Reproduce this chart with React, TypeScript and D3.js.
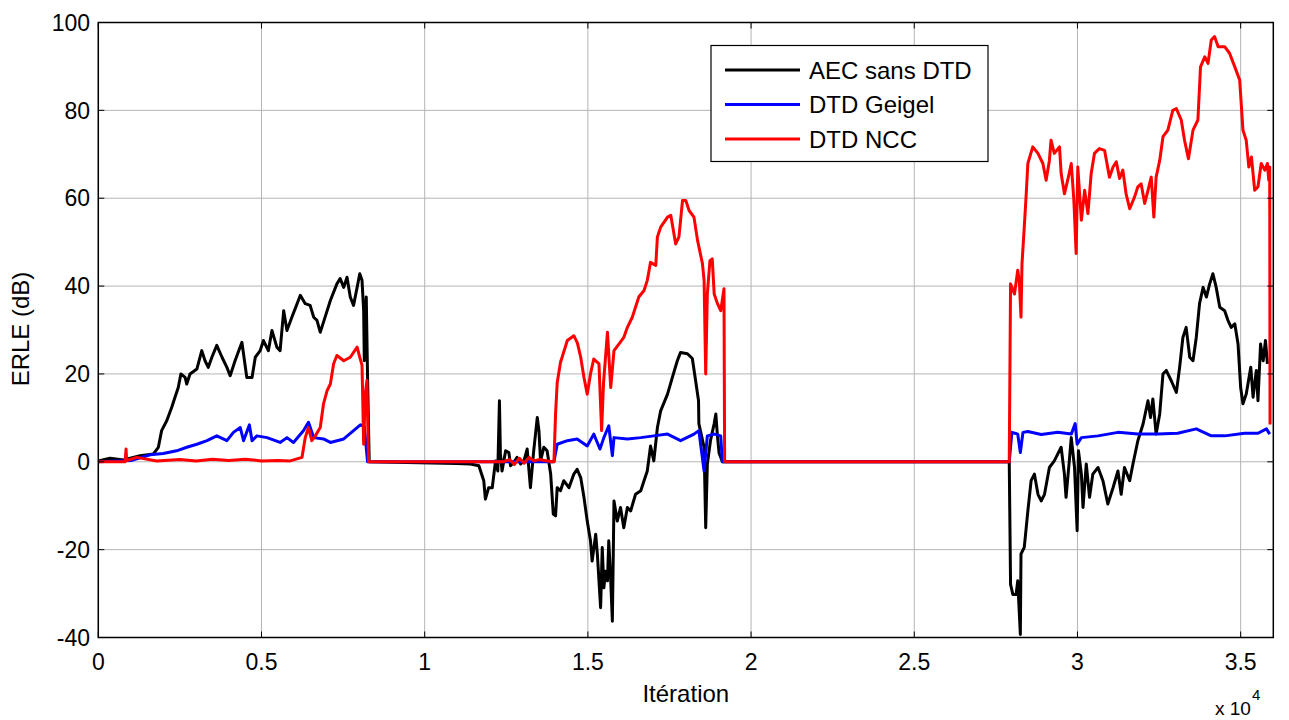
import React from "react";
import * as d3 from "d3";

// ---- data (iteration, ERLE dB) ----
const aecSansDTD: [number, number][] = [
  [0,0.2],[360,0.8],[770,0.4],[1280,1.4],[1690,1.8],[1840,3.3],[1940,7.1],[2100,9.4],[2250,12.4],[2350,14.7],[2450,16.9],[2530,20],[2660,19.2],[2710,17.7],[2810,20],[3020,21.1],[3170,25.3],[3270,23],[3370,21.5],[3480,23.8],[3630,26.5],[3790,23.8],[3940,21.5],[4040,19.6],[4190,23],[4400,27.2],[4550,19.2],[4710,19.2],[4810,23.8],[4960,25.3],[5060,27.6],[5210,25.3],[5320,29.9],[5470,26.1],[5570,25.3],[5680,34.4],[5780,29.9],[5930,32.9],[6030,34.8],[6190,37.9],[6340,36],[6490,35.6],[6600,32.9],[6700,32.2],[6800,29.5],[6900,31.8],[7110,36.7],[7310,40.5],[7410,41.7],[7520,39.7],[7620,42],[7720,37.5],[7820,35.6],[7930,39.7],[8010,42.8],[8080,41.3],[8130,34.4],[8150,23],[8210,37.5],[8250,19.2],[8300,0],
  [10990,-0.4],[11400,-0.5],[11660,-0.9],[11810,-4.3],[11860,-8.5],[11960,-5.9],[12070,-5.9],[12170,0.2],[12240,-2.1],[12290,13.9],[12320,1.8],[12370,-2.1],[12480,2.5],[12580,2.1],[12630,-0.9],[12730,-0.2],[12830,1],[12940,-0.5],[13040,0.2],[13140,2.9],[13240,-5.9],[13340,2.5],[13450,10.1],[13500,7.1],[13550,0.2],[13650,3.3],[13750,2.5],[13860,-2.8],[13940,-11.9],[14010,-12.3],[14060,-5.9],[14160,-6.6],[14260,-4.3],[14420,-5.9],[14570,-2.8],[14670,-1.7],[14780,-3.6],[14880,-8.1],[14980,-13.5],[15080,-18],[15130,-22.6],[15240,-16.5],[15290,-21],[15390,-33.2],[15440,-19.5],[15490,-28.7],[15540,-24.9],[15600,-27.1],[15640,-18],[15700,-27.1],[15750,-36.3],[15800,-8.9],[15900,-13.5],[16000,-10.4],[16100,-15],[16210,-10.4],[16310,-11.2],[16460,-7.4],[16620,-6.6],[16720,-4.3],[16820,-2.1],[16920,3.6],[17020,0.2],[17130,7.8],[17230,11.6],[17440,15.4],[17600,19.5],[17740,23],[17840,24.9],[18050,24.6],[18200,23.5],[18300,18.5],[18390,13.9],[18400,8.7],[18560,3.3],[18610,-15],[18660,-0.5],[18760,5],[18870,8.7],[18920,10.9],[18970,5.8],[19020,2],[19120,0],[27910,0],
  [27950,-27.9],[28020,-30.2],[28120,-30.2],[28170,-27.1],[28250,-39.3],[28270,-21],[28370,-19.5],[28430,-15],[28480,-11.2],[28580,-4.3],[28680,-2.8],[28790,-7.4],[28890,-8.9],[28990,-7.4],[29140,-1.3],[29290,0.2],[29500,3.3],[29600,-2.8],[29650,-8.1],[29750,0.2],[29810,5.5],[29910,-1.3],[29990,-15.7],[30030,2.5],[30120,-2.8],[30170,-10.4],[30270,-0.5],[30370,-8.1],[30470,-2.8],[30630,-1.3],[30780,-4.3],[30930,-9.6],[31090,-5.9],[31240,-2.1],[31340,-7.4],[31440,-1.3],[31600,-4.3],[31700,-0.5],[31850,4.8],[32010,8.6],[32160,13.9],[32240,10.1],[32310,14.3],[32410,6.3],[32520,10.9],[32620,20],[32720,20.8],[32870,18.5],[33030,15.8],[33130,21.5],[33230,28.3],[33330,30.6],[33440,23.8],[33540,23],[33640,28.3],[33740,36],[33850,39.7],[33950,37.5],[34050,40.5],[34150,42.8],[34250,39.7],[34360,35.2],[34510,34.4],[34610,32.2],[34710,30.6],[34820,31.4],[34920,26.8],[35000,16.9],[35070,13.2],[35170,15.4],[35310,21.5],[35380,14.7],[35480,20.8],[35530,13.9],[35610,26.8],[35690,23],[35760,27.6],[35820,22.3]
];

const dtdGeigel: [number, number][] = [
  [0,0],[1000,0.3],[1590,1.6],[1990,1.9],[2400,2.5],[2710,3.3],[3020,4],[3330,4.8],[3630,5.9],[3940,4.8],[4140,6.7],[4350,7.8],[4450,4.8],[4630,8.4],[4710,4.8],[4860,5.9],[5170,5.5],[5570,4.4],[5780,5.5],[5980,4.4],[6290,7.1],[6440,9],[6600,5.5],[6900,5.2],[7110,4.4],[7520,5.2],[7820,7.1],[8030,8.4],[8150,8],[8250,0],
  [13960,0],[14060,4],[14370,4.8],[14670,5.2],[14980,3.6],[15180,6.3],[15370,2.9],[15490,5.5],[15640,8.2],[15750,1.4],[15800,5.5],[16210,5.2],[16620,5.5],[17020,5.9],[17440,6.3],[17840,4.8],[18250,6.3],[18400,7.1],[18560,-2.1],[18660,5.9],[18870,6.3],[19070,5.9],[19120,0],
  [27910,0],[27990,6.7],[28170,6.3],[28250,2.1],[28330,6.7],[28480,6.9],[28890,6.2],[29400,6.7],[29810,6.3],[29930,8.7],[29990,4],[30120,5.5],[30630,5.9],[31240,6.7],[31850,6.3],[32460,6.3],[33070,6.5],[33640,7.5],[34100,5.9],[34510,5.9],[35120,6.5],[35530,6.5],[35790,7.5],[35890,6.3]
];

const dtdNCC: [number, number][] = [
  [0,0],[820,0],[850,2.9],[870,0.3],[1180,1],[1790,0.2],[2500,0.5],[3000,0.2],[3500,0.6],[4000,0.3],[4500,0.6],[5000,0.2],[5500,0.3],[5880,0.2],[6240,1],[6340,5.5],[6440,7.8],[6540,4.8],[6650,5.9],[6800,7.8],[6900,13.2],[7010,16.2],[7110,17.7],[7210,22.3],[7310,24.2],[7520,23],[7720,23.8],[7930,26.1],[8010,23.8],[8080,22],[8130,4],[8180,15.4],[8230,18.5],[8280,0],
  [12400,0],[12600,0.5],[12750,-0.6],[12900,0.8],[13050,-0.3],[13200,1],[13350,0.2],[13500,0.5],[13900,0],[13960,0],[14010,10.9],[14060,18],[14160,22.6],[14370,27.6],[14570,28.7],[14680,27],[14780,23.8],[14880,19.2],[14980,15.4],[15080,20],[15180,23.4],[15340,22.3],[15420,7.1],[15480,18],[15600,29.5],[15700,16.9],[15800,25.3],[15950,26.8],[16100,28.3],[16210,30.6],[16360,32.9],[16560,37.5],[16720,39],[16820,41.3],[16920,45.4],[17080,44.7],[17130,51.2],[17230,53.4],[17440,55.7],[17540,56.1],[17690,49.6],[17790,51.2],[17900,59.5],[18000,59.5],[18100,57.2],[18250,55.7],[18360,50.4],[18510,45.1],[18560,41.3],[18610,20],[18660,38.2],[18740,45.8],[18810,46.2],[18870,38.2],[18970,36],[19070,34.4],[19170,39.4],[19190,0],
  [27910,0],[27950,40.5],[28070,38.2],[28170,43.6],[28220,41],[28270,32.9],[28300,45],[28370,53.4],[28430,61],[28480,67.9],[28630,71.7],[28790,70.2],[28940,67.9],[29040,64.1],[29140,68.6],[29190,73.2],[29290,70.2],[29450,71.7],[29500,65.6],[29600,61],[29700,64.1],[29810,67.9],[29890,59.5],[29960,47.4],[30010,67.1],[30120,55],[30220,61.8],[30320,56.5],[30420,65.6],[30520,70.2],[30670,71.3],[30830,70.9],[30980,64.8],[31090,67.1],[31190,68.3],[31290,64.5],[31390,66.4],[31490,61],[31600,57.6],[31750,60.3],[31850,62.6],[31950,63.3],[32060,58.8],[32160,61.8],[32260,64.8],[32340,55.7],[32410,64.8],[32520,68.6],[32620,74],[32770,75.5],[32920,80],[33030,80.4],[33180,77.8],[33280,73.2],[33400,69],[33540,75.5],[33690,77.8],[33770,89.9],[33900,92.2],[34000,90.7],[34100,96],[34200,96.8],[34310,94.5],[34510,94.5],[34660,93],[34820,89.9],[34970,86.9],[35070,75.5],[35170,73.2],[35250,67.1],[35330,69.4],[35430,61.8],[35530,62.6],[35630,67.9],[35740,66.4],[35820,67.9],[35860,64.1],[35890,67.1],[35900,8.5]
];

const xTicks = [0, 5000, 10000, 15000, 20000, 25000, 30000, 35000];
const yTicks = [-40, -20, 0, 20, 40, 60, 80, 100];
const legendLabels = ["AEC sans DTD", "DTD Geigel", "DTD NCC"];
const seriesColors = ["#000000", "#0000ff", "#ff0000"];

const W = 1289, H = 720;
const L = 98.3, R = 1273.3, T = 22.5, B = 637.5;
const FONT = "'Liberation Sans', Arial, Helvetica, sans-serif";

export default function App() {
  const x = d3.scaleLinear().domain([0, 36000]).range([L, R]);
  const y = d3.scaleLinear().domain([-40, 100]).range([B, T]);
  const line = d3.line<[number, number]>().x((d) => x(d[0])).y((d) => y(d[1]));
  const series = [aecSansDTD, dtdGeigel, dtdNCC];
  const tl = 6;

  return (
    <svg width={W} height={H} style={{ position: "absolute", left: 0, top: 0, background: "#fff" }} fontFamily={FONT}>
      <rect x={0} y={0} width={W} height={H} fill="#fff" />
      <defs>
        <clipPath id="clip">
          <rect x={L} y={T - 2} width={R - L} height={B - T + 4} />
        </clipPath>
      </defs>
      {/* grid */}
      {xTicks.map((t) => (
        <line key={"gx" + t} x1={x(t)} x2={x(t)} y1={T} y2={B} stroke="#b4b4b4" strokeWidth={1} />
      ))}
      {yTicks.map((t) => (
        <line key={"gy" + t} x1={L} x2={R} y1={y(t)} y2={y(t)} stroke="#b4b4b4" strokeWidth={1} />
      ))}
      {/* series */}
      <g clipPath="url(#clip)">
        {series.map((s, i) => (
          <path key={i} d={line(s) || ""} fill="none" stroke={seriesColors[i]} strokeWidth={3} strokeLinejoin="round" />
        ))}
      </g>
      {/* ticks */}
      {xTicks.map((t) => (
        <g key={"tx" + t}>
          <line x1={x(t)} x2={x(t)} y1={B} y2={B - tl} stroke="#000" />
          <line x1={x(t)} x2={x(t)} y1={T} y2={T + tl} stroke="#000" />
          <text x={x(t)} y={670} fontSize={23} textAnchor="middle" fill="#000">
            {String(t / 10000)}
          </text>
        </g>
      ))}
      {yTicks.map((t) => (
        <g key={"ty" + t}>
          <line x1={L} x2={L + tl} y1={y(t)} y2={y(t)} stroke="#000" />
          <line x1={R} x2={R - tl} y1={y(t)} y2={y(t)} stroke="#000" />
          <text x={90} y={y(t) + 8.2} fontSize={23} textAnchor="end" fill="#000">
            {String(t)}
          </text>
        </g>
      ))}
      {/* box */}
      <rect x={L} y={T} width={R - L} height={B - T} fill="none" stroke="#000" strokeWidth={1.5} />
      {/* axis labels */}
      <text x={(L + R) / 2} y={702} fontSize={24} textAnchor="middle" fill="#000">Itération</text>
      <text transform={`translate(28.5,329) rotate(-90)`} fontSize={24} textAnchor="middle" fill="#000">ERLE (dB)</text>
      <text x={1215} y={715} fontSize={19} fill="#000">x 10</text>
      <text x={1252} y={700} fontSize={15} fill="#000">4</text>
      {/* legend */}
      <rect x={711} y={45.5} width={277} height={116} fill="#fff" stroke="#000" strokeWidth={1.2} />
      {legendLabels.map((lab, i) => {
        const cy = 70 + i * 34.5;
        return (
          <g key={lab}>
            <line x1={725} x2={800} y1={cy} y2={cy} stroke={seriesColors[i]} strokeWidth={3} />
            <text x={809} y={cy + 8.6} fontSize={24} fill="#000">{lab}</text>
          </g>
        );
      })}
    </svg>
  );
}
